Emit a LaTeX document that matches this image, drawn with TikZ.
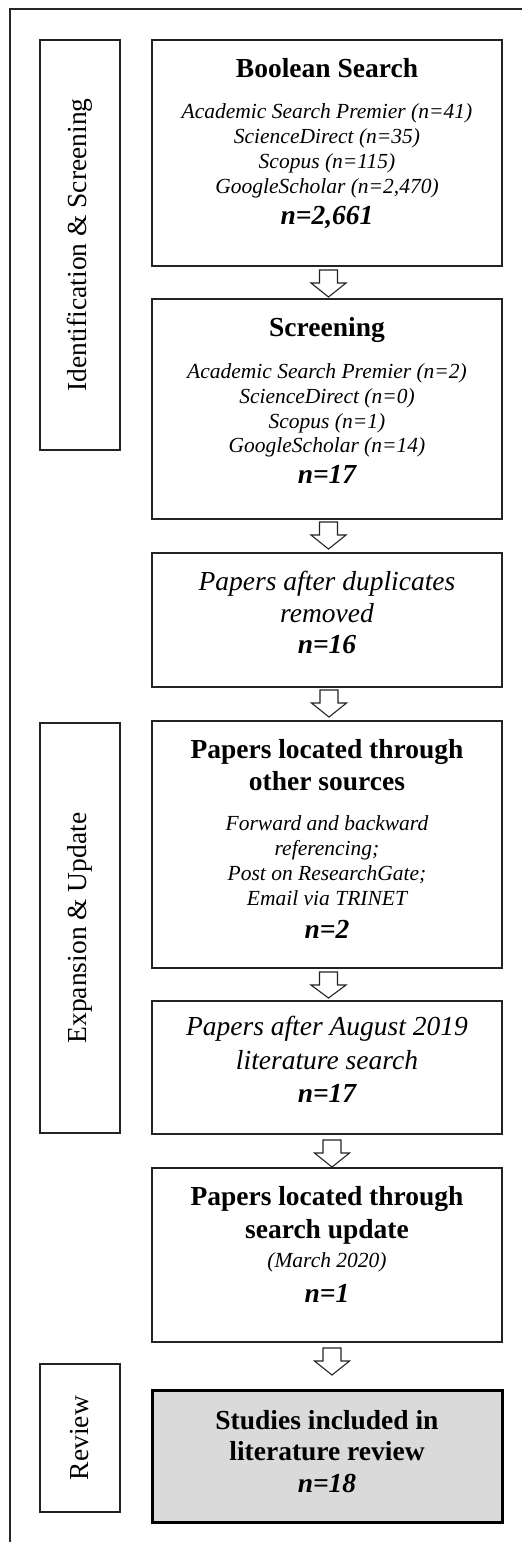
\documentclass[tikz,border=0pt]{standalone}
\usepackage{fontspec}
\setmainfont{Liberation Serif}
\usetikzlibrary{calc}
\definecolor{reviewgray}{RGB}{218,218,218}
\definecolor{linegray}{RGB}{35,35,35}
\newcommand\bxHead{\fontsize{27.5}{31}\selectfont\bfseries}
\newcommand\bxSmall{\fontsize{21.5}{25}\selectfont\itshape}
\newcommand\bxBig{\fontsize{27.5}{31}\selectfont\itshape}
\newcommand\bxCount{\fontsize{27.5}{31}\selectfont\bfseries\itshape}
\newcommand\bxl[3]{\vskip#1pt\hbox to\hsize{\hss{#2\smash{#3}}\hss}}
\newcommand\bxv[1]{\vskip#1pt}
\newcommand\bxcontent[1]{\vbox{\hsize=350pt\offinterlineskip\hbox{}#1\hbox{}}}
\newcommand\blockarrow[5]{%
  \draw[blockarr] let \p1=($(#1.south)+(#3,-#4)$), \p2=($(#2.north)+(#3,#5)$), \n1={\y1-13} in
  (\x1-9,\y1) -- (\x1+9,\y1) -- (\x1+9,\n1) -- (\x1+17.5,\n1) -- (\x1,\y2)
  -- (\x1-17.5,\n1) -- (\x1-9,\n1) -- cycle;}
\tikzset{
  mainbox/.style={draw=linegray, line width=1.1pt, inner sep=0pt, outer sep=0pt},
  finalbox/.style={mainbox, line width=3pt, draw=black, fill=reviewgray},
  sidebox/.style={draw=linegray, line width=1.1pt, inner sep=0pt, minimum height=80pt,
    rotate=90, font=\fontsize{27.5}{31}\selectfont},
  blockarr/.style={draw=linegray, line width=1.1pt, fill=white, line join=miter},
  frame/.style={draw=black!85, line width=2pt}
}
\begin{document}
\begin{tikzpicture}[x=1pt, y=1pt]
\useasboundingbox (0,0) rectangle (522,-1542);
\fill[white] (0,0) rectangle (522,-1542);
\coordinate (fb) at (10,-1542);
\coordinate (fc) at (10,-9);
\coordinate (fr) at (522,-9);
\draw[frame] (fb) -- (fc) -- (fr);

% side boxes
\node[sidebox, minimum width=410pt] (S1) at (80,-245) {Identification \& Screening};
\node[sidebox, minimum width=410pt] (S2) at (80,-928) {Expansion \& Update};
\node[sidebox, minimum width=148pt] (S3) at (80,-1438) {Review};

% main boxes
\node[mainbox] (A) at (327,-153) {\bxcontent{%
  \bxv{37}\bxl{0}{\bxHead}{Boolean Search}%
  \bxl{41}{\bxSmall}{Academic Search Premier (n=41)}%
  \bxl{25}{\bxSmall}{ScienceDirect (n=35)}%
  \bxl{25}{\bxSmall}{Scopus (n=115)}%
  \bxl{25}{\bxSmall}{GoogleScholar (n=2,470)}%
  \bxl{31}{\bxCount}{n=2,661}%
  \bxv{42}}};

\node[mainbox] (B) at (327,-409) {\bxcontent{%
  \bxv{37}\bxl{0}{\bxHead}{Screening}%
  \bxl{42}{\bxSmall}{Academic Search Premier (n=2)}%
  \bxl{25}{\bxSmall}{ScienceDirect (n=0)}%
  \bxl{25}{\bxSmall}{Scopus (n=1)}%
  \bxl{24}{\bxSmall}{GoogleScholar (n=14)}%
  \bxl{31}{\bxCount}{n=17}%
  \bxv{36}}};

\node[mainbox] (C) at (327,-620) {\bxcontent{%
  \bxv{37}\bxl{0}{\bxBig}{Papers after duplicates}%
  \bxl{32}{\bxBig}{removed}%
  \bxl{31}{\bxCount}{n=16}%
  \bxv{34}}};

\node[mainbox] (D) at (327,-844.5) {\bxcontent{%
  \bxv{37}\bxl{0}{\bxHead}{Papers located through}%
  \bxl{32}{\bxHead}{other sources}%
  \bxl{40}{\bxSmall}{Forward and backward}%
  \bxl{25}{\bxSmall}{referencing;}%
  \bxl{25}{\bxSmall}{Post on ResearchGate;}%
  \bxl{25}{\bxSmall}{Email via TRINET}%
  \bxl{33}{\bxCount}{n=2}%
  \bxv{30}}};

\node[mainbox] (E) at (327,-1067.5) {\bxcontent{%
  \bxv{34}\bxl{0}{\bxBig}{Papers after August 2019}%
  \bxl{34}{\bxBig}{literature search}%
  \bxl{33}{\bxCount}{n=17}%
  \bxv{32}}};

\node[mainbox] (F) at (327,-1255) {\bxcontent{%
  \bxv{37}\bxl{0}{\bxHead}{Papers located through}%
  \bxl{33}{\bxHead}{search update}%
  \bxl{29}{\bxSmall}{(March 2020)}%
  \bxl{35}{\bxCount}{n=1}%
  \bxv{40}}};

\node[finalbox] (G) at (327,-1456) {\bxcontent{%
  \bxv{39}\bxl{0}{\bxHead}{Studies included in}%
  \bxl{31}{\bxHead}{literature review}%
  \bxl{32}{\bxCount}{n=18}%
  \bxv{30}}};

% block arrows
\blockarrow{A}{B}{1.5}{4}{2}
\blockarrow{B}{C}{1.5}{3}{4}
\blockarrow{C}{D}{2}{3}{4}
\blockarrow{D}{E}{1.5}{4}{3}
\blockarrow{E}{F}{5}{6}{1}
\blockarrow{F}{G}{5}{6}{15}
\end{tikzpicture}
\end{document}
